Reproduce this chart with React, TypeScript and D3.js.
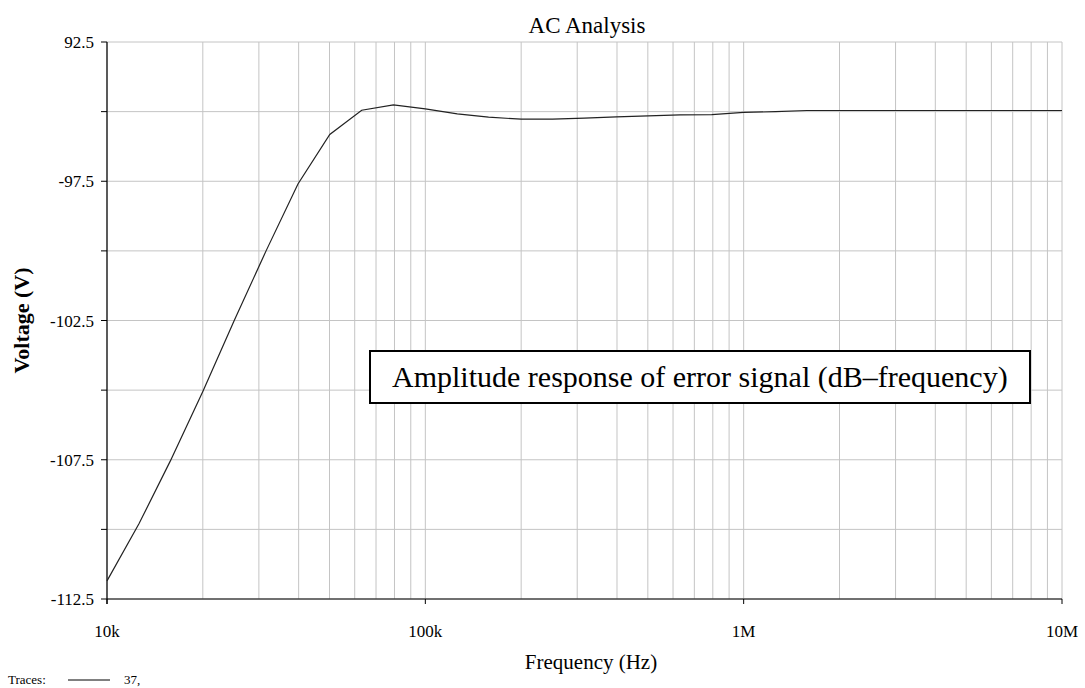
import React from "react";
import * as d3 from "d3";

const freqs = [10e3, 12.6e3, 15.8e3, 20e3, 25.1e3, 31.6e3, 39.8e3, 50.1e3, 63.1e3, 79.4e3,
  100e3, 126e3, 158e3, 200e3, 251e3, 316e3, 398e3, 501e3, 631e3, 794e3,
  1e6, 1.26e6, 1.58e6, 2e6, 2.51e6, 3.16e6, 3.98e6, 5.01e6, 6.31e6, 7.94e6, 10e6];
const volts = [-111.85, -109.8, -107.55, -105.05, -102.5, -100.0, -97.6, -95.82, -94.95, -94.76,
  -94.9, -95.08, -95.2, -95.27, -95.27, -95.23, -95.19, -95.15, -95.12, -95.11,
  -95.03, -95.0, -94.96, -94.96, -94.96, -94.96, -94.96, -94.96, -94.96, -94.96, -94.96];

const xTicks = [10e3, 100e3, 1e6, 10e6];
const xTickLabels = ["10k", "100k", "1M", "10M"];
const yGrid = [-92.5, -95, -97.5, -100, -102.5, -105, -107.5, -110, -112.5];
const yTicks = [-92.5, -97.5, -102.5, -107.5, -112.5];
const yTickLabels = ["92.5", "-97.5", "-102.5", "-107.5", "-112.5"];

const W = 1085, H = 688;
const L = 107, R = 1062, T = 42, B = 599;
const serif = "Liberation Serif, Times New Roman, serif";

export default function App() {
  const x = d3.scaleLog().domain([10e3, 10e6]).range([L, R]);
  const y = d3.scaleLinear().domain([-112.5, -92.5]).range([B, T]);
  const minor: number[] = [];
  for (let dec = 1e4; dec < 1e7; dec *= 10) for (let m = 1; m <= 9; m++) minor.push(dec * m);
  minor.push(1e7);
  const line = d3.line<number>().x((_, i) => x(freqs[i])).y((v) => y(v));

  return (
    <svg width={W} height={H} style={{ position: "absolute", left: 0, top: 0, background: "#fff" }}
      fontFamily={serif}>
      <rect x={0} y={0} width={W} height={H} fill="#fff" />
      {minor.map((f, i) => (
        <line key={"v" + i} x1={x(f)} x2={x(f)} y1={T} y2={B} stroke="#c4c4c4" strokeWidth={1} />
      ))}
      {yGrid.map((v, i) => (
        <line key={"h" + i} x1={L} x2={R} y1={y(v)} y2={y(v)} stroke="#c4c4c4" strokeWidth={1} />
      ))}
      {yGrid.map((v, i) => (
        <line key={"t" + i} x1={L - 6} x2={L} y1={y(v)} y2={y(v)} stroke="#000" strokeWidth={1} />
      ))}
      {xTicks.map((f, i) => (
        <line key={"xt" + i} x1={x(f)} x2={x(f)} y1={B} y2={B + 5} stroke="#000" strokeWidth={1} />
      ))}
      <line x1={L} x2={L} y1={T} y2={B + 5} stroke="#000" strokeWidth={1.2} />
      <line x1={L} x2={R} y1={B} y2={B} stroke="#000" strokeWidth={1} />
      <path d={line(volts) || ""} fill="none" stroke="#222" strokeWidth={1.2} />
      {yTicks.map((v, i) => (
        <text key={"yl" + i} x={L - 13} y={y(v) + 6} textAnchor="end" fontSize={17}>{yTickLabels[i]}</text>
      ))}
      {xTicks.map((f, i) => (
        <text key={"xl" + i} x={x(f)} y={637} textAnchor="middle" fontSize={17}>{xTickLabels[i]}</text>
      ))}
      <text x={587} y={33} textAnchor="middle" fontSize={23}>AC Analysis</text>
      <text x={591} y={669} textAnchor="middle" fontSize={21}>Frequency (Hz)</text>
      <text transform={`translate(29,${(T + B) / 2}) rotate(-90)`} textAnchor="middle" fontSize={22}
        fontWeight="bold">Voltage (V)</text>
      <rect x={370} y={351} width={660} height={52} fill="#fff" stroke="#000" strokeWidth={2} />
      <text x={392} y={387} fontSize={30}>Amplitude response of error signal (dB–frequency)</text>
      <text x={8} y={684} fontSize={13}>Traces:</text>
      <line x1={68} x2={110} y1={680} y2={680} stroke="#000" strokeWidth={1} />
      <text x={124} y={684} fontSize={13}>37,</text>
    </svg>
  );
}
